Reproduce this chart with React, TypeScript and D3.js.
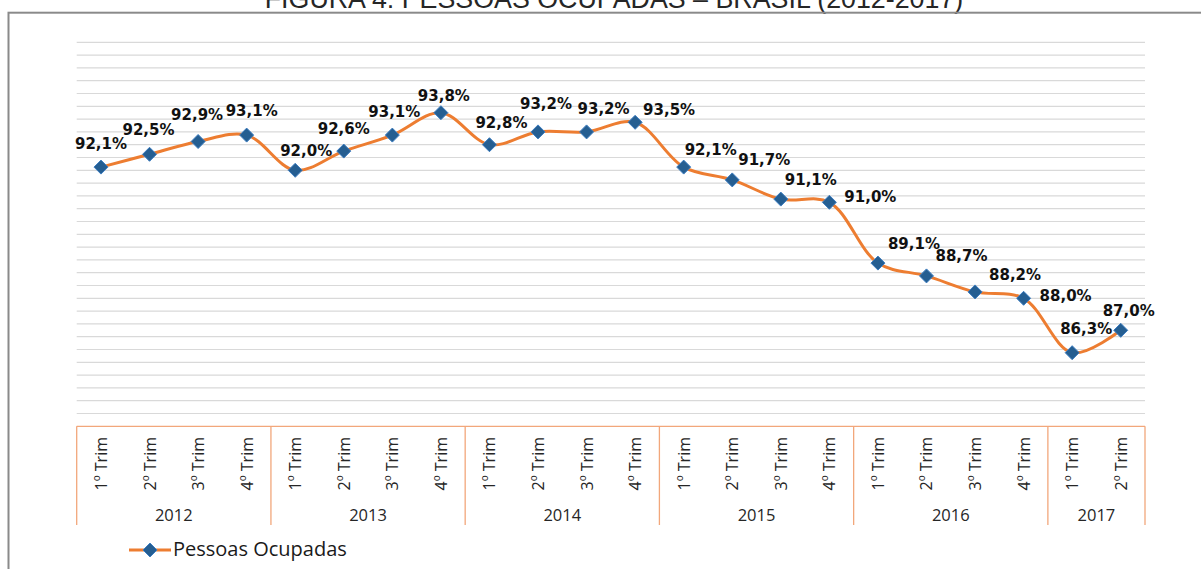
import React from 'react';
import * as d3 from 'd3';

// Data
const quarters = [
  '1º Trim', '2º Trim', '3º Trim', '4º Trim',
  '1º Trim', '2º Trim', '3º Trim', '4º Trim',
  '1º Trim', '2º Trim', '3º Trim', '4º Trim',
  '1º Trim', '2º Trim', '3º Trim', '4º Trim',
  '1º Trim', '2º Trim', '3º Trim', '4º Trim',
  '1º Trim', '2º Trim',
];
const years = ['2012', '2013', '2014', '2015', '2016', '2017'];
const quartersPerYear = [4, 4, 4, 4, 4, 2];
const ocupadas = [
  92.1, 92.5, 92.9, 93.1,
  92.0, 92.6, 93.1, 93.8,
  92.8, 93.2, 93.2, 93.5,
  92.1, 91.7, 91.1, 91.0,
  89.1, 88.7, 88.2, 88.0,
  86.3, 87.0,
];

// label nudges (px, relative to the marker) as placed in the original
const labelNudge: [number, number][] = [
  [0, -24], [-1, -25], [-1, -27], [5, -25],
  [11, -20], [0, -23], [2, -24], [3, -17],
  [12, -22], [8, -28], [17, -23], [34, -13],
  [27, -18], [32, -20], [30, -20], [41, -6],
  [36, -20], [35, -20], [40, -17], [42, -3],
  [14, -24], [8, -20],
];

const W = 1201;
const H = 569;
const plotLeft = 76.7;
const plotRight = 1145;
const plotTop = 42.3;
const axisY = 426.3;
const axisBottom = 525;

const fmt = (v: number) => v.toFixed(1).replace('.', ',') + '%';

const App = () => {
  const x = d3.scaleBand<number>()
    .domain(d3.range(quarters.length))
    .range([plotLeft, plotRight])
    .padding(0);
  const bw = x.bandwidth();
  const cx = (i: number) => (x(i) as number) + bw / 2;

  const y = d3.scaleLinear().domain([84, 96]).range([axisY, plotTop]);
  const grid = d3.range(1, 31).map(k => 84 + k * 0.4);

  const line = d3.line<number>()
    .x((_, i) => cx(i))
    .y(d => y(d))
    .curve(d3.curveCatmullRom.alpha(0.5));

  // year group boundaries
  let acc = 0;
  const groups = quartersPerYear.map((n, gi) => {
    const start = acc;
    acc += n;
    const x0 = x(start) as number;
    const x1 = start + n >= quarters.length ? plotRight : (x(start + n) as number);
    return { year: years[gi], x0, x1 };
  });

  const diamond = (px: number, py: number, r: number) =>
    `M${px},${py - r}L${px + r},${py}L${px},${py + r}L${px - r},${py}Z`;

  const axisColor = '#F2A77B';

  return (
    <svg
      width={W}
      height={H}
      style={{ position: 'absolute', left: 0, top: 0, background: '#fff' }}
    >
      <text
        x={614}
        y={7.5}
        textAnchor="middle"
        fontFamily="'Liberation Sans', Arial, sans-serif"
        fontSize={26.8}
        fill="#262626"
      >
        FIGURA 4: PESSOAS OCUPADAS – BRASIL (2012-2017)
      </text>

      {/* outer frame */}
      <rect x={8.5} y={12.7} width={W + 20} height={H + 20} fill="none" stroke="#8a8a8a" strokeWidth={2} />

      {/* gridlines */}
      {grid.map((g, i) => (
        <line
          key={i}
          x1={plotLeft}
          x2={plotRight}
          y1={y(g)}
          y2={y(g)}
          stroke="#D9D9D9"
          strokeWidth={1.2}
        />
      ))}

      {/* category axis box */}
      <line x1={plotLeft} x2={plotRight} y1={axisY} y2={axisY} stroke={axisColor} strokeWidth={1.3} />
      {[groups[0].x0, ...groups.map(g => g.x1)].map((gx, i) => (
        <line key={i} x1={gx} x2={gx} y1={axisY} y2={axisBottom} stroke={axisColor} strokeWidth={1.3} />
      ))}

      {quarters.map((q, i) => (
        <text
          key={i}
          transform={`translate(${cx(i) + 6},${437}) rotate(-90)`}
          textAnchor="end"
          fontFamily="'Open Sans', sans-serif"
          fontSize={16}
          fill="#262626"
        >
          {q}
        </text>
      ))}

      {groups.map(g => (
        <text
          key={g.year}
          x={(g.x0 + g.x1) / 2}
          y={521}
          textAnchor="middle"
          fontFamily="'Open Sans', sans-serif"
          fontSize={16.5}
          fill="#262626"
        >
          {g.year}
        </text>
      ))}

      {/* series */}
      <path d={line(ocupadas) || ''} fill="none" stroke="#ED7D31" strokeWidth={3} strokeLinejoin="round" />
      {ocupadas.map((v, i) => (
        <path key={i} d={diamond(cx(i), y(v), 7)} fill="#255E91" stroke="#3B7CC0" strokeWidth={1} />
      ))}

      {ocupadas.map((v, i) => (
        <text
          key={i}
          x={cx(i) + labelNudge[i][0]}
          y={y(v) + labelNudge[i][1]}
          dy="0.36em"
          textAnchor="middle"
          fontFamily="'DejaVu Sans', Verdana, sans-serif"
          fontWeight="bold"
          fontSize={15}
          fill="#111"
        >
          {fmt(v)}
        </text>
      ))}

      {/* legend */}
      <line x1={129} x2={171} y1={550} y2={550} stroke="#ED7D31" strokeWidth={3} />
      <path d={diamond(150, 550, 7)} fill="#255E91" stroke="#3B7CC0" strokeWidth={1} />
      <text
        x={173}
        y={556}
        fontFamily="'Open Sans', sans-serif"
        fontSize={20}
        fill="#1a1a1a"
      >
        Pessoas Ocupadas
      </text>
    </svg>
  );
};

export default App;
